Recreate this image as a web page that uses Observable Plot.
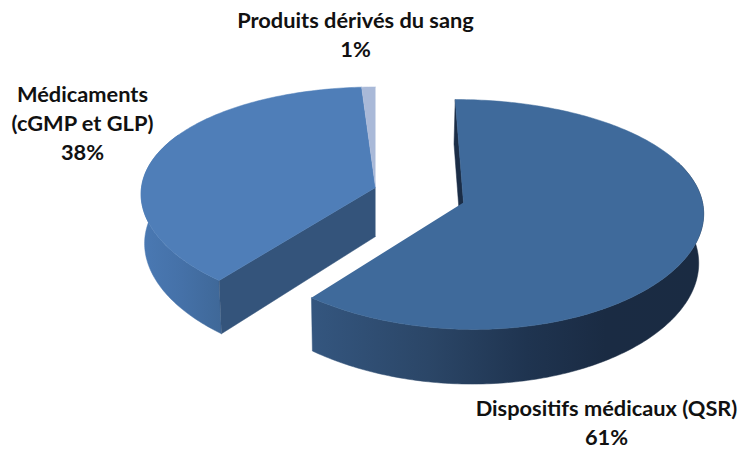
<!DOCTYPE html>
<html lang="fr">
<head>
<meta charset="utf-8">
<style>
  html, body { margin: 0; padding: 0; background: #fff; }
  svg { display: block; }
</style>
<script src="https://cdn.jsdelivr.net/npm/d3@7"></script>
<script src="https://cdn.jsdelivr.net/npm/@observablehq/plot@0.6"></script>
</head>
<body>
<script>
// Répartition par référentiel
const names = ["Dispositifs médicaux (QSR)", "Médicaments\n(cGMP et GLP)", "Produits dérivés du sang"];
const shares = [61, 38, 1];

// Slice appearance and placement
const topColors = ["#3f6a9b", "#4f7eb8", "#a9b9d8"];
const anchorX = [463, 375, 375];
const anchorY = [202, 187, 187];
const radiusX = [239, 234, 234];
const radiusY = [113.7, 111, 111];
const labelX = [606, 82, 355];
const labelY = [421, 121, 33];

// Perspective of the tilted disc
const vanishX = 375;
const thickness = 49;
const depthY = 0.104;
const depthX = 0.06;
const floorScale = 0.985;

// Slice boundaries, clockwise from twelve o'clock
const cumulative = d3.cumsum(shares);
const startAngle = i => (i === 0 ? 0 : cumulative[i - 1]) / 100 * 2 * Math.PI;
const endAngle = i => cumulative[i] / 100 * 2 * Math.PI;

// Maps a point of slice i (angle, radius 0..1, z 0 = top, 1 = bottom) to the page
function project(i, angle, r, z) {
  const u = r * Math.sin(angle) * radiusX[i];
  const v = r * Math.cos(angle);
  const ky = 1 + depthY * v;
  const kx = 1 + depthX * v;
  const s = z ? floorScale : 1;
  return {
    x: vanishX + ((anchorX[i] - vanishX) / ky + u / kx) * s,
    y: anchorY[i] - v * radiusY[i] / ky + z * thickness / ky
  };
}

function arc(i, a0, a1, z) {
  const n = Math.max(2, Math.ceil(Math.abs(a1 - a0) * 60));
  return d3.range(n + 1).map(k => project(i, a0 + (a1 - a0) * k / n, 1, z));
}

const topFace = i => [project(i, 0, 0, 0), ...arc(i, startAngle(i), endAngle(i), 0)];
const outerWall = (i, a0, a1) => [...arc(i, a0, a1, 0), ...arc(i, a1, a0, 1)];
const cutWall = (i, a) => [project(i, a, 0, 0), project(i, a, 1, 0), project(i, a, 1, 1), project(i, a, 0, 1)];

function gradient(id, stops) {
  const g = d3.create("svg:linearGradient").attr("id", id).attr("x1", 0).attr("x2", 1).attr("y1", 0).attr("y2", 0);
  stops.forEach(([o, c]) => g.append("stop").attr("offset", o).attr("stop-color", c));
  return g;
}

const defs = () => {
  const d = d3.create("svg:defs");
  d.append(() => gradient("wallRight", [[0, "#34567f"], [0.3, "#2b4667"], [0.55, "#1f3450"], [0.75, "#1a2b43"], [1, "#1a2b42"]]).node());
  d.append(() => gradient("wallLeft", [[0, "#4a79b3"], [0.5, "#4571a8"], [1, "#3f6898"]]).node());
  return d.node();
};

const face = (points, fill) => Plot.line(points, {x: "x", y: "y", fill, stroke: fill, strokeWidth: 0.5});

const labels = shares.map((s, i) => ({text: `${names[i]}\n${s}%`, x: labelX[i], y: labelY[i]}));

const chart = Plot.plot({
  width: 743,
  height: 450,
  margin: 0,
  x: {domain: [0, 743], range: [0, 743], axis: null},
  y: {domain: [0, 450], range: [0, 450], axis: null},
  marks: [
    defs,
    // Left group: outer wall, exposed cut, then the two top faces
    face(outerWall(1, startAngle(1), startAngle(1) + 1.4), "url(#wallLeft)"),
    face(cutWall(1, startAngle(1)), "#34547b"),
    face(topFace(1), topColors[1]),
    face(topFace(2), topColors[2]),
    // Exploded slice: inner cut, outer wall, top face
    face(cutWall(0, startAngle(0)), "#1b2d46"),
    face(outerWall(0, 1.2, endAngle(0)), "url(#wallRight)"),
    face(topFace(0), topColors[0]),
    Plot.text(labels, {
      x: "x",
      y: "y",
      text: "text",
      fontFamily: "Lato",
      fontWeight: 700,
      fontSize: 21.8,
      lineHeight: 1.33,
      fill: "#111"
    })
  ]
});
document.body.append(chart);
</script>
</body>
</html>
